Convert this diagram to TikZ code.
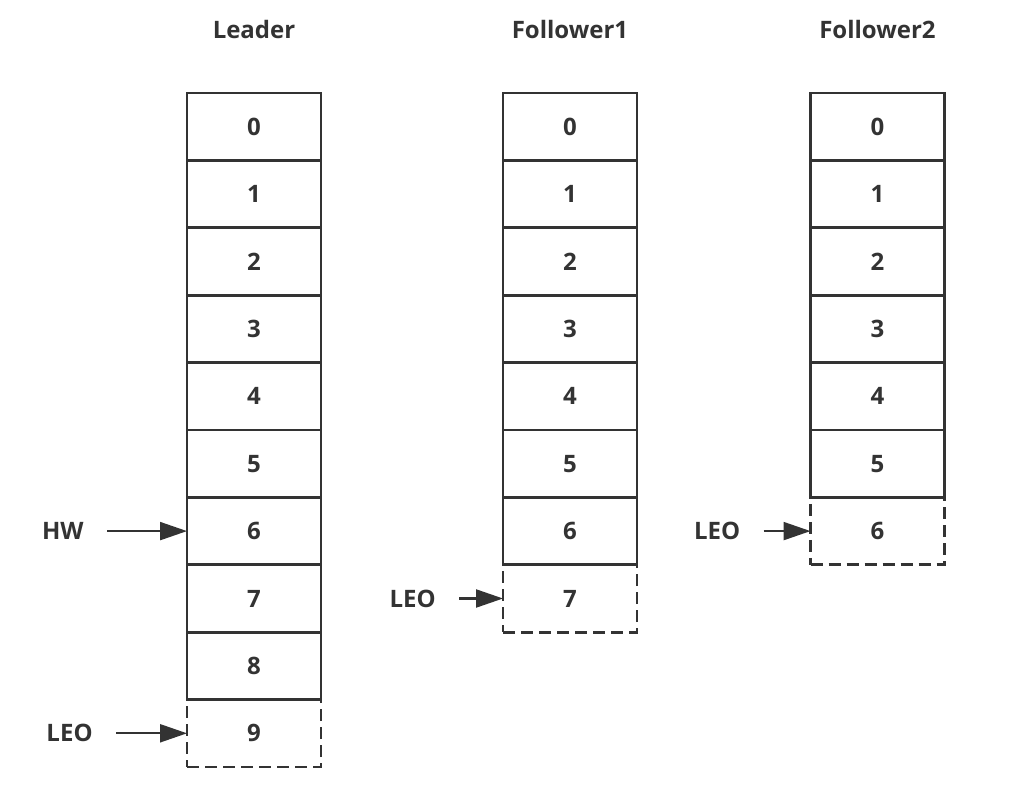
\documentclass[tikz,border=0pt]{standalone}
\usepackage{fontspec}
\setmainfont{Open Sans}
\usepackage{tikz}
\usetikzlibrary{arrows.meta,positioning}
\definecolor{ink}{HTML}{333333}

\begin{document}
\begin{tikzpicture}[
          x=0.5pt, y=-0.5pt,
          every node/.style={font=\fontsize{12}{14}\selectfont\bfseries, text=ink},
          cell/.style={rectangle, draw=ink, line width=1.4pt, outer sep=0pt, minimum width=67pt, minimum height=33.7pt},
          newcell/.style={cell, dashed, dash pattern=on 6pt off 3pt},
          title/.style={inner sep=0pt, anchor=south},
          tag/.style={inner sep=0pt},
          ptr/.style={-{Triangle[length=13.5pt, width=9pt]}, draw=ink, line width=1.1pt, shorten <=11.5pt},
          node distance=0pt
        ]
        \useasboundingbox (0,0) rectangle (1027,795);

        % Leader
        \node[cell] (L0) at (254,126.7) {0};
        \node[cell, below=of L0] (L1) {1};
        \node[cell, below=of L1] (L2) {2};
        \node[cell, below=of L2] (L3) {3};
        \node[cell, below=of L3] (L4) {4};
        \node[cell, below=of L4] (L5) {5};
        \node[cell, below=of L5] (L6) {6};
        \node[cell, below=of L6] (L7) {7};
        \node[cell, below=of L7] (L8) {8};
        \node[newcell, below=of L8] (L9) {9};
        \node[title, above=27pt of L0] (TL) {Leader};

        % Follower1
        \node[cell] (A0) at (570,126.7) {0};
        \node[cell, below=of A0] (A1) {1};
        \node[cell, below=of A1] (A2) {2};
        \node[cell, below=of A2] (A3) {3};
        \node[cell, below=of A3] (A4) {4};
        \node[cell, below=of A4] (A5) {5};
        \node[cell, below=of A5] (A6) {6};
        \node[newcell, below=of A6] (A7) {7};
        \node[title, above=27pt of A0] (TA) {Follower1};

        % Follower2
        \node[cell] (B0) at (877.5,126.7) {0};
        \node[cell, below=of B0] (B1) {1};
        \node[cell, below=of B1] (B2) {2};
        \node[cell, below=of B2] (B3) {3};
        \node[cell, below=of B3] (B4) {4};
        \node[cell, below=of B4] (B5) {5};
        \node[newcell, below=of B5] (B6) {6};
        \node[title, above=27pt of B0] (TB) {Follower2};

        % Offsets
        \node[tag, left=51.5pt of L6] (HW) {HW};
        \node[tag, left=47pt of L9] (LEOL) {LEO};
        \node[tag, left=33.5pt of A7] (LEOA) {LEO};
        \node[tag, left=35pt of B6] (LEOB) {LEO};

        \draw[ptr] (HW) -- (L6);
        \draw[ptr] (LEOL) -- (L9);
        \draw[ptr] (LEOA) -- (A7);
        \draw[ptr] (LEOB) -- (B6);

      \end{tikzpicture}
\end{document}
